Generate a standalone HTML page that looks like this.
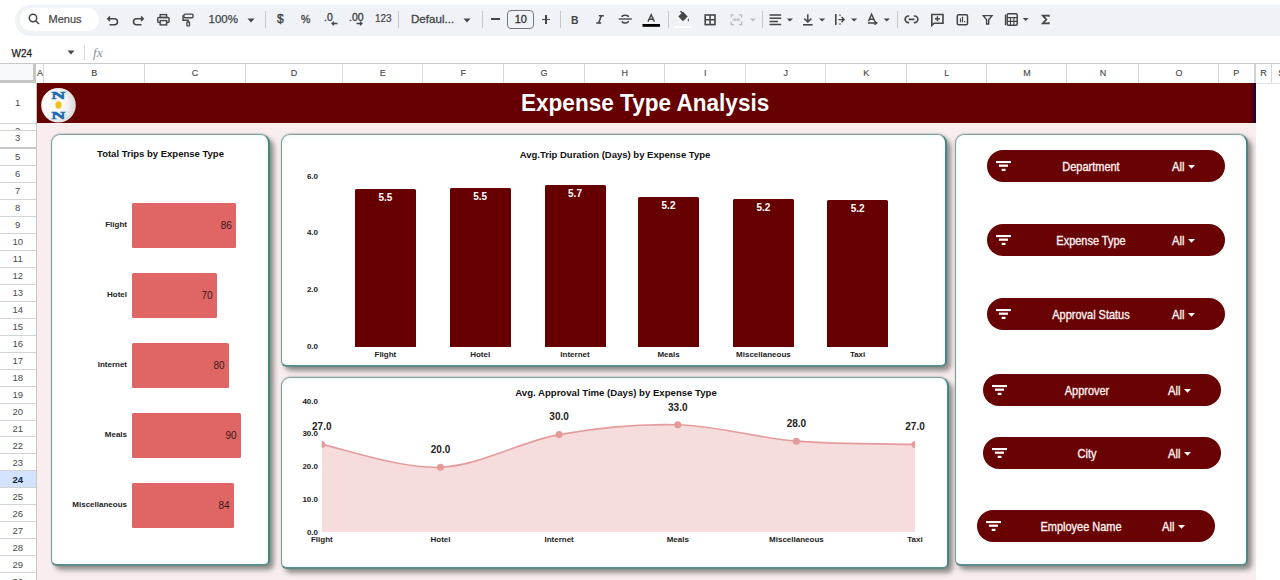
<!DOCTYPE html><html><head><meta charset="utf-8"><style>
*{box-sizing:border-box;margin:0;padding:0}
html,body{width:1280px;height:580px;overflow:hidden;background:#fff;font-family:"Liberation Sans",sans-serif;position:relative}
.a{position:absolute}
.ic{position:absolute}
.cl{position:absolute;top:64px;height:19px;line-height:19px;font-size:9px;color:#4a4a4a;text-align:center;-webkit-text-stroke:0.15px #4a4a4a}
.rn{position:absolute;left:0;width:35.5px;font-size:9.5px;color:#4a4a4a;text-align:center}
.panel{position:absolute;background:#fff;border:1.3px solid #5f8b8a;border-top-color:#86a09e;border-left-color:#7f9a9a;border-right:2px solid #4a8484;border-bottom-width:2px;border-radius:9px 9px 6px 6px;box-shadow:4px 4px 5px rgba(75,78,72,.6),0 -0.5px 1.5px rgba(120,150,150,.35),inset 0 0 5px rgba(160,230,230,.22)}
.chip{position:absolute;height:32px;border-radius:16px;background:#690202;color:#fcf0f0;font-size:11.5px}
.chip .t{position:absolute;top:0.5px;line-height:32px;text-align:center;width:160px;font-size:12.2px;transform:scaleX(0.9);-webkit-text-stroke:0.35px #fcf0f0}
.chip .all{position:absolute;top:0.5px;line-height:32px;font-size:12.2px;transform:scaleX(0.92);transform-origin:0 0;-webkit-text-stroke:0.35px #fcf0f0}
.b8{font-weight:bold;font-size:8px;color:#222}
</style></head><body>

<div class="a" style="left:15px;top:4.5px;width:1300px;height:31.2px;border-radius:15.6px;background:#eff3f8"></div>
<div class="a" style="left:20px;top:8.2px;width:79px;height:22.5px;border-radius:11.25px;background:#fff"></div>
<svg class="ic" style="left:27px;top:12px" width="16" height="16" viewBox="0 0 16 16"><circle cx="6" cy="6" r="3.7" fill="none" stroke="#444" stroke-width="1.5"/><line x1="8.7" y1="8.7" x2="12" y2="12" stroke="#444" stroke-width="1.6"/></svg>
<div class="a" style="left:48.5px;top:12px;font-size:11px;line-height:14px;color:#444;-webkit-text-stroke:0.2px #444">Menus</div>
<svg class="ic" style="left:106px;top:13px" width="14" height="14" viewBox="0 0 14 14"><path d="M4 3.5 L1.8 5.8 L4 8 M2 5.8 H8.5 a3 3 0 0 1 0 6 H3.5" fill="none" stroke="#444746" stroke-width="1.6"/></svg>
<svg class="ic" style="left:131px;top:13px" width="14" height="14" viewBox="0 0 14 14"><path d="M10 3.5 L12.2 5.8 L10 8 M12 5.8 H5.5 a3 3 0 0 0 0 6 H10.5" fill="none" stroke="#444746" stroke-width="1.6"/></svg>
<svg class="a" style="left:0;top:0" width="300" height="40" viewBox="0 0 300 40">
<rect x="160.2" y="14.6" width="6.4" height="2.9" fill="none" stroke="#444746" stroke-width="1.4"/>
<rect x="157.7" y="17.4" width="11.4" height="5.2" rx="1.4" fill="none" stroke="#444746" stroke-width="1.5"/>
<rect x="160.2" y="20.6" width="6.4" height="4.3" fill="#eff3f8" stroke="#444746" stroke-width="1.4"/>
<rect x="184" y="14.1" width="9" height="3.6" rx="1" fill="none" stroke="#444746" stroke-width="1.4"/>
<path d="M184 15.9 H183 V20.2 H188.2 V22" fill="none" stroke="#444746" stroke-width="1.4"/>
<rect x="186.9" y="22" width="2.6" height="3.9" rx=".5" fill="none" stroke="#444746" stroke-width="1.3"/>
</svg>
<div class="a" style="left:208.5px;top:12.3px;font-size:11.5px;line-height:14px;color:#444;-webkit-text-stroke:0.25px #444">100%</div>
<svg class="ic" style="left:247px;top:17.5px" width="8" height="5" viewBox="0 0 8 5"><path d="M0.5 0.5 H7.5 L4 4.5Z" fill="#444746"/></svg>
<div class="a" style="left:265px;top:11px;width:1px;height:17px;background:#c7c7c7"></div>
<div class="a" style="left:277px;top:11.5px;font-size:12px;line-height:14px;color:#444;-webkit-text-stroke:0.4px #444">$</div>
<div class="a" style="left:301px;top:11.5px;font-size:10.5px;line-height:14px;color:#444;-webkit-text-stroke:0.3px #444">%</div>
<div class="a" style="left:324px;top:10px;font-size:10.5px;line-height:14px;color:#444;-webkit-text-stroke:0.35px #444">.0</div>
<svg class="ic" style="left:331px;top:21px" width="7" height="5" viewBox="0 0 7 5"><path d="M6.5 2.5 H1.2 M3 0.6 L1 2.5 L3 4.4" fill="none" stroke="#444746" stroke-width="1.3"/></svg>
<div class="a" style="left:349px;top:10px;font-size:10.5px;line-height:14px;color:#444;-webkit-text-stroke:0.35px #444">.00</div>
<svg class="ic" style="left:356px;top:21px" width="7" height="5" viewBox="0 0 7 5"><path d="M0.5 2.5 H5.8 M4 0.6 L6 2.5 L4 4.4" fill="none" stroke="#444746" stroke-width="1.3"/></svg>
<div class="a" style="left:375px;top:13px;font-size:10px;line-height:12px;color:#444;-webkit-text-stroke:0.2px #444">123</div>
<div class="a" style="left:398px;top:11px;width:1px;height:17px;background:#c7c7c7"></div>
<div class="a" style="left:411px;top:12px;font-size:11.6px;line-height:14px;color:#444;-webkit-text-stroke:0.3px #444">Defaul...</div>
<svg class="ic" style="left:463px;top:18px" width="8" height="5" viewBox="0 0 8 5"><path d="M0.5 0.5 H7.5 L4 4.5Z" fill="#444746"/></svg>
<div class="a" style="left:482px;top:11px;width:1px;height:17px;background:#c7c7c7"></div>
<div class="a" style="left:491px;top:18px;width:8.5px;height:1.6px;background:#444746"></div>
<div class="a" style="left:507.3px;top:10px;width:27px;height:18.5px;border:1.1px solid #777;border-radius:4px;font-size:11px;line-height:16.5px;text-align:center;color:#333;-webkit-text-stroke:0.3px #333">10</div>
<div class="a" style="left:541.8px;top:18.7px;width:8.4px;height:1.6px;background:#444746"></div><div class="a" style="left:545.2px;top:15.3px;width:1.6px;height:8.4px;background:#444746"></div>
<div class="a" style="left:559.5px;top:11px;width:1px;height:17px;background:#c7c7c7"></div>
<div class="a" style="left:570.5px;top:13px;font-size:11.5px;line-height:14px;color:#444;font-weight:bold;transform:scaleX(0.9);transform-origin:0 0">B</div>
<svg class="a" style="left:0;top:0" width="1280" height="40" viewBox="0 0 1280 40">
<path d="M598.8 15.8 H603.8 M596.2 23 H601.2 M601.3 15.8 L598.7 23" fill="none" stroke="#444746" stroke-width="1.6"/>
<path d="M628.6 17 C628 14.8 622 14.8 622 17 M622 21.2 C622.6 23.6 628.6 23.6 628.4 21" fill="none" stroke="#444746" stroke-width="1.5"/>
<line x1="618.8" y1="19" x2="631.8" y2="19" stroke="#444746" stroke-width="1.4"/>
<path d="M648 21.6 L651.2 14.6 L654.4 21.6 M649.1 19.3 H653.3" fill="none" stroke="#444746" stroke-width="1.4"/>
<rect x="642.5" y="24" width="17.5" height="2.8" fill="#000"/>
<path d="M680.5 11.3 L683.3 14.1" stroke="#444746" stroke-width="1.5"/>
<path d="M678.3 16.5 L683 11.8 L687.7 16.5 L683 21.2 Z" fill="#444746"/>
<path d="M688.2 18.2 q1.6 2 0.4 3.2 q-1.6 -0.6 -0.4 -3.2z" fill="#444746"/>
</svg>
<div class="a" style="left:667.5px;top:11px;width:1px;height:17px;background:#c7c7c7"></div>
<div class="a" style="left:674px;top:26px;width:18px;height:2px;background:#fff"></div>
<svg class="a" style="left:0;top:0" width="1280" height="40" viewBox="0 0 1280 40">
<rect x="705.2" y="15" width="9.8" height="9.6" fill="none" stroke="#444746" stroke-width="1.6"/>
<path d="M710.1 15 V24.6 M705.2 19.8 H715" stroke="#444746" stroke-width="1.5"/>
<path d="M731.2 17.5 V14.8 H734 M738.8 14.8 H741.6 V17.5 M731.2 21.5 V24.6 H734 M738.8 24.6 H741.6 V21.5" fill="none" stroke="#b8bcc0" stroke-width="1.3"/>
<path d="M732.5 19.7 H735.8 M734.3 18.2 L735.8 19.7 L734.3 21.2 M740.3 19.7 H737 M738.5 18.2 L737 19.7 L738.5 21.2" fill="none" stroke="#b8bcc0" stroke-width="1.1"/>
<path d="M750 18.4 H755.8 L752.9 21.4Z" fill="#b8bcc0"/>
<path d="M769.5 15 H781.2 M769.5 18.3 H781.2 M769.5 21.5 H778 M769.5 24.5 H781.2" stroke="#444746" stroke-width="1.5"/>
<path d="M786.8 18.4 H793 L789.9 21.4Z" fill="#444746"/>
<path d="M807.8 14.2 V21.8 M804.3 18.6 L807.8 22 L811.3 18.6" fill="none" stroke="#444746" stroke-width="1.5"/>
<path d="M803 24.8 H812.6" stroke="#444746" stroke-width="1.6"/>
<path d="M819 18.4 H825.2 L822.1 21.4Z" fill="#444746"/>
<path d="M835.8 14 V25" stroke="#444746" stroke-width="1.6"/>
<path d="M838.5 19.6 H844 M841.5 17 L844.2 19.6 L841.5 22.2" fill="none" stroke="#444746" stroke-width="1.4"/>
<path d="M840 14.5 V16 M840 23.2 V24.8" stroke="#444746" stroke-width="1.2"/>
<path d="M851 18.4 H857.2 L854.1 21.4Z" fill="#444746"/>
<path d="M868.4 21.4 L871.6 14.3 L874.8 21.4 M869.5 19.2 H873.7" fill="none" stroke="#444746" stroke-width="1.4"/>
<path d="M868 23 H876.5 M874.5 21.3 L876.8 23 L874.5 24.7" fill="none" stroke="#444746" stroke-width="1.4"/>
<path d="M883.7 18.4 H889.9 L886.8 21.4Z" fill="#444746"/>
<path d="M909.2 16 H908.5 a3.35 3.35 0 0 0 0 6.7 H909.2 M913.8 16 H914.5 a3.35 3.35 0 0 1 0 6.7 H913.8 M908.6 19.35 H914.4" fill="none" stroke="#444746" stroke-width="1.7"/>
<path d="M931.8 14.5 H943 V23.2 H934.2 L931.8 25.4 Z" fill="none" stroke="#444746" stroke-width="1.6"/>
<path d="M937.4 16.3 V21.3 M934.9 18.8 H939.9" stroke="#444746" stroke-width="1.5"/>
<rect x="957.3" y="14.8" width="10.2" height="10" rx="1.2" fill="none" stroke="#444746" stroke-width="1.5"/>
<path d="M960.5 22.2 V18.5 M962.5 22.2 V16.8 M964.6 22.2 V21" stroke="#444746" stroke-width="1.2"/>
<path d="M983.3 15.6 H992 L988.7 19.7 V24 H986.6 V19.7 Z" fill="none" stroke="#444746" stroke-width="1.4"/>
<path d="M1005.5 14.5 V25.3" stroke="#444746" stroke-width="1.3"/>
<rect x="1007.2" y="13.8" width="10" height="11.5" rx="1.2" fill="none" stroke="#444746" stroke-width="1.5"/>
<path d="M1007.2 17.6 H1017.2 M1010.5 17.6 V25.3 M1013.9 17.6 V25.3 M1007.2 21.4 H1017.2" stroke="#444746" stroke-width="1.1"/>
<path d="M1022.8 17.9 H1028.6 L1025.7 20.9Z" fill="#444746"/>
<path d="M1048.8 16.8 V15.6 H1042.8 L1046.3 19.5 L1042.8 23.4 H1048.8 V22.2" fill="none" stroke="#444746" stroke-width="1.8"/>
</svg>
<div class="a" style="left:761.5px;top:11px;width:1px;height:17px;background:#c7c7c7"></div>
<div class="a" style="left:896.5px;top:11px;width:1px;height:17px;background:#c7c7c7"></div>
<div class="a" style="left:11.5px;top:46.5px;font-size:10px;line-height:13px;color:#222;-webkit-text-stroke:0.25px #222">W24</div>
<svg class="ic" style="left:67px;top:50px" width="8" height="5" viewBox="0 0 8 5"><path d="M0.5 0.5 H7.5 L4 4.5Z" fill="#444746"/></svg>
<div class="a" style="left:84px;top:45px;width:1px;height:15px;background:#ddd"></div>
<div class="a" style="left:93px;top:44px;font-family:'Liberation Serif',serif;font-style:italic;font-size:13.5px;line-height:15px;color:#8f959a;top:45px">fx</div>
<div class="a" style="left:0;top:63px;width:1280px;height:1px;background:#c8c8c8"></div>
<div class="a" style="left:0;top:64px;width:36px;height:19px;background:#f8f9fa"></div>
<div class="a" style="left:33px;top:64px;width:3px;height:19px;background:#c4c7c5"></div>
<div class="a" style="left:0;top:80px;width:36px;height:3px;background:#c4c7c5"></div>
<div class="cl" style="left:36px;width:8px">A</div>
<div class="a" style="left:43.20px;top:64px;width:1px;height:19px;background:#d6d8db"></div>
<div class="cl" style="left:44px;width:100.5px">B</div>
<div class="a" style="left:143.70px;top:64px;width:1px;height:19px;background:#d6d8db"></div>
<div class="cl" style="left:144.5px;width:101.0px">C</div>
<div class="a" style="left:244.70px;top:64px;width:1px;height:19px;background:#d6d8db"></div>
<div class="cl" style="left:245.5px;width:97.0px">D</div>
<div class="a" style="left:341.70px;top:64px;width:1px;height:19px;background:#d6d8db"></div>
<div class="cl" style="left:342.5px;width:80.5px">E</div>
<div class="a" style="left:422.20px;top:64px;width:1px;height:19px;background:#d6d8db"></div>
<div class="cl" style="left:423px;width:80.5px">F</div>
<div class="a" style="left:502.70px;top:64px;width:1px;height:19px;background:#d6d8db"></div>
<div class="cl" style="left:503.5px;width:81.0px">G</div>
<div class="a" style="left:583.70px;top:64px;width:1px;height:19px;background:#d6d8db"></div>
<div class="cl" style="left:584.5px;width:80.5px">H</div>
<div class="a" style="left:664.20px;top:64px;width:1px;height:19px;background:#d6d8db"></div>
<div class="cl" style="left:665px;width:80.5px">I</div>
<div class="a" style="left:744.70px;top:64px;width:1px;height:19px;background:#d6d8db"></div>
<div class="cl" style="left:745.5px;width:80.5px">J</div>
<div class="a" style="left:825.20px;top:64px;width:1px;height:19px;background:#d6d8db"></div>
<div class="cl" style="left:826px;width:80.5px">K</div>
<div class="a" style="left:905.70px;top:64px;width:1px;height:19px;background:#d6d8db"></div>
<div class="cl" style="left:906.5px;width:80.5px">L</div>
<div class="a" style="left:986.20px;top:64px;width:1px;height:19px;background:#d6d8db"></div>
<div class="cl" style="left:987px;width:80px">M</div>
<div class="a" style="left:1066.20px;top:64px;width:1px;height:19px;background:#d6d8db"></div>
<div class="cl" style="left:1067px;width:72px">N</div>
<div class="a" style="left:1138.20px;top:64px;width:1px;height:19px;background:#d6d8db"></div>
<div class="cl" style="left:1139px;width:80px">O</div>
<div class="a" style="left:1218.20px;top:64px;width:1px;height:19px;background:#d6d8db"></div>
<div class="cl" style="left:1219px;width:34.5px">P</div>
<div class="cl" style="left:1255.5px;width:16.0px">R</div>
<div class="a" style="left:1270.70px;top:64px;width:1px;height:19px;background:#d6d8db"></div>
<div class="cl" style="left:1271.5px;width:19.5px">S</div>
<div class="a" style="left:1290.20px;top:64px;width:1px;height:19px;background:#d6d8db"></div>
<div class="a" style="left:1253.5px;top:64px;width:2.5px;height:19px;background:#eceff1;border-left:1px solid #cfd2d4;border-right:1px solid #cfd2d4"></div>
<div class="a" style="left:36px;top:83px;width:1219.5px;height:497px;background:#f9eeee"></div>
<div class="a" style="left:1255.5px;top:83px;width:30px;height:497px;background:#fff"></div>
<div class="a" style="left:1255.5px;top:82.5px;width:30px;height:1px;background:#e2e3e3"></div>
<div class="a" style="left:35.5px;top:83px;width:1px;height:497px;background:#c4c7c5"></div>
<div class="rn" style="top:83.00px;height:40px;line-height:40px;">1</div>
<div class="a" style="left:0;top:122.50px;width:36px;height:1px;background:#d2d3d5"></div>
<div class="rn" style="top:123px;height:7.5px;overflow:hidden"><div style="line-height:13px;margin-top:0.5px">2</div></div>
<div class="a" style="left:0;top:130.00px;width:36px;height:1px;background:#d2d3d5"></div>
<div class="rn" style="top:129.20px;height:17.0px;line-height:17.0px;">3</div>
<div class="a" style="left:0;top:147.00px;width:36px;height:1px;background:#d2d3d5"></div>
<div class="rn" style="top:149.30px;height:16.97px;line-height:16.97px;">5</div>
<div class="a" style="left:0;top:164.97px;width:36px;height:1px;background:#d2d3d5"></div>
<div class="rn" style="top:166.27px;height:16.97px;line-height:16.97px;">6</div>
<div class="a" style="left:0;top:181.94px;width:36px;height:1px;background:#d2d3d5"></div>
<div class="rn" style="top:183.24px;height:16.97px;line-height:16.97px;">7</div>
<div class="a" style="left:0;top:198.91px;width:36px;height:1px;background:#d2d3d5"></div>
<div class="rn" style="top:200.21px;height:16.97px;line-height:16.97px;">8</div>
<div class="a" style="left:0;top:215.88px;width:36px;height:1px;background:#d2d3d5"></div>
<div class="rn" style="top:217.18px;height:16.97px;line-height:16.97px;">9</div>
<div class="a" style="left:0;top:232.85px;width:36px;height:1px;background:#d2d3d5"></div>
<div class="rn" style="top:234.15px;height:16.97px;line-height:16.97px;">10</div>
<div class="a" style="left:0;top:249.82px;width:36px;height:1px;background:#d2d3d5"></div>
<div class="rn" style="top:251.12px;height:16.96999999999997px;line-height:16.96999999999997px;">11</div>
<div class="a" style="left:0;top:266.79px;width:36px;height:1px;background:#d2d3d5"></div>
<div class="rn" style="top:268.09px;height:16.970000000000027px;line-height:16.970000000000027px;">12</div>
<div class="a" style="left:0;top:283.76px;width:36px;height:1px;background:#d2d3d5"></div>
<div class="rn" style="top:285.06px;height:16.970000000000027px;line-height:16.970000000000027px;">13</div>
<div class="a" style="left:0;top:300.73px;width:36px;height:1px;background:#d2d3d5"></div>
<div class="rn" style="top:302.03px;height:16.970000000000027px;line-height:16.970000000000027px;">14</div>
<div class="a" style="left:0;top:317.70px;width:36px;height:1px;background:#d2d3d5"></div>
<div class="rn" style="top:319.00px;height:16.970000000000027px;line-height:16.970000000000027px;">15</div>
<div class="a" style="left:0;top:334.67px;width:36px;height:1px;background:#d2d3d5"></div>
<div class="rn" style="top:335.97px;height:16.970000000000027px;line-height:16.970000000000027px;">16</div>
<div class="a" style="left:0;top:351.64px;width:36px;height:1px;background:#d2d3d5"></div>
<div class="rn" style="top:352.94px;height:16.970000000000027px;line-height:16.970000000000027px;">17</div>
<div class="a" style="left:0;top:368.61px;width:36px;height:1px;background:#d2d3d5"></div>
<div class="rn" style="top:369.91px;height:16.970000000000027px;line-height:16.970000000000027px;">18</div>
<div class="a" style="left:0;top:385.58px;width:36px;height:1px;background:#d2d3d5"></div>
<div class="rn" style="top:386.88px;height:16.970000000000027px;line-height:16.970000000000027px;">19</div>
<div class="a" style="left:0;top:402.55px;width:36px;height:1px;background:#d2d3d5"></div>
<div class="rn" style="top:403.85px;height:16.970000000000027px;line-height:16.970000000000027px;">20</div>
<div class="a" style="left:0;top:419.52px;width:36px;height:1px;background:#d2d3d5"></div>
<div class="rn" style="top:420.82px;height:16.970000000000027px;line-height:16.970000000000027px;">21</div>
<div class="a" style="left:0;top:436.49px;width:36px;height:1px;background:#d2d3d5"></div>
<div class="rn" style="top:437.79px;height:16.970000000000027px;line-height:16.970000000000027px;">22</div>
<div class="a" style="left:0;top:453.46px;width:36px;height:1px;background:#d2d3d5"></div>
<div class="rn" style="top:454.76px;height:16.970000000000027px;line-height:16.970000000000027px;">23</div>
<div class="a" style="left:0;top:470.43px;width:36px;height:1px;background:#d2d3d5"></div>
<div class="a" style="left:0;top:470.9300000000003px;width:35.5px;height:16.970000000000027px;background:#d3e3fd"></div>
<div class="rn" style="top:471.73px;height:16.970000000000027px;line-height:16.970000000000027px;font-weight:bold;color:#0b1f44">24</div>
<div class="a" style="left:0;top:487.40px;width:36px;height:1px;background:#d2d3d5"></div>
<div class="rn" style="top:488.70px;height:16.970000000000027px;line-height:16.970000000000027px;">25</div>
<div class="a" style="left:0;top:504.37px;width:36px;height:1px;background:#d2d3d5"></div>
<div class="rn" style="top:505.67px;height:16.970000000000027px;line-height:16.970000000000027px;">26</div>
<div class="a" style="left:0;top:521.34px;width:36px;height:1px;background:#d2d3d5"></div>
<div class="rn" style="top:522.64px;height:16.970000000000027px;line-height:16.970000000000027px;">27</div>
<div class="a" style="left:0;top:538.31px;width:36px;height:1px;background:#d2d3d5"></div>
<div class="rn" style="top:539.61px;height:16.970000000000027px;line-height:16.970000000000027px;">28</div>
<div class="a" style="left:0;top:555.28px;width:36px;height:1px;background:#d2d3d5"></div>
<div class="rn" style="top:556.58px;height:16.970000000000027px;line-height:16.970000000000027px;">29</div>
<div class="a" style="left:0;top:572.25px;width:36px;height:1px;background:#d2d3d5"></div>
<div class="rn" style="top:573.55px;height:16.970000000000027px;line-height:16.970000000000027px;">30</div>
<div class="a" style="left:0;top:589.22px;width:36px;height:1px;background:#d2d3d5"></div>
<div class="a" style="left:0;top:147px;width:36px;height:2px;background:#c4c7c5"></div>
<div class="a" style="left:36.5px;top:83px;width:1219px;height:39.5px;background:#660000"></div>
<div class="a" style="left:1251.5px;top:83px;width:4px;height:39.5px;background:linear-gradient(90deg,#660000,#2a0630 50%,#1a0838)"></div>
<div class="a" style="left:521px;top:89px;white-space:nowrap;font-weight:bold;font-size:23.8px;line-height:28px;color:#fff;transform:scaleX(0.948);transform-origin:0 0">Expense Type Analysis</div>
<svg class="a" style="left:36px;top:82px" width="46" height="42" viewBox="36 82 46 42">
<defs><radialGradient id="lg" cx="0.3" cy="0.45" r="0.8"><stop offset="0" stop-color="#ffffff"/><stop offset="0.55" stop-color="#f4f4f4"/><stop offset="1" stop-color="#cfcfcf"/></radialGradient></defs>
<circle cx="58.5" cy="105.2" r="17.3" fill="url(#lg)"/>
<text transform="translate(58.3,99.1) scale(1.85,1)" text-anchor="middle" font-family="Liberation Serif" font-weight="bold" font-size="10.6" fill="#1b6db5" stroke="#1b6db5" stroke-width="0.5">N</text>
<ellipse cx="58.5" cy="105" rx="3.1" ry="3.7" fill="#f1c21b"/>
<text transform="translate(58.3,118.7) scale(1.85,1)" text-anchor="middle" font-family="Liberation Serif" font-weight="bold" font-size="10.6" fill="#1b6db5" stroke="#1b6db5" stroke-width="0.5">N</text>
</svg>
<div class="panel" style="left:51px;top:134px;width:219px;height:431.5px"></div>
<div class="panel" style="left:280.5px;top:134px;width:666px;height:232.5px"></div>
<div class="panel" style="left:280.5px;top:377px;width:668px;height:191.5px"></div>
<div class="panel" style="left:954.8px;top:134px;width:293.7px;height:431.5px"></div>
<div class="a" style="left:52px;top:147.5px;width:217px;text-align:center;font-weight:bold;font-size:9.5px;line-height:12px;color:#111">Total Trips by Expense Type</div>
<div class="a" style="left:132px;top:203.0px;width:103.9px;height:45px;background:#e06666;border-radius:1.5px"></div>
<div class="a b8" style="left:39px;width:88px;top:219.0px;line-height:11px;text-align:right">Flight</div>
<div class="a" style="left:132px;width:99.9px;top:218.5px;line-height:13px;text-align:right;font-size:10px;color:#3a1616">86</div>
<div class="a" style="left:132px;top:273.1px;width:84.6px;height:45px;background:#e06666;border-radius:1.5px"></div>
<div class="a b8" style="left:39px;width:88px;top:289.1px;line-height:11px;text-align:right">Hotel</div>
<div class="a" style="left:132px;width:80.6px;top:288.6px;line-height:13px;text-align:right;font-size:10px;color:#3a1616">70</div>
<div class="a" style="left:132px;top:343.2px;width:96.6px;height:45px;background:#e06666;border-radius:1.5px"></div>
<div class="a b8" style="left:39px;width:88px;top:359.2px;line-height:11px;text-align:right">Internet</div>
<div class="a" style="left:132px;width:92.6px;top:358.7px;line-height:13px;text-align:right;font-size:10px;color:#3a1616">80</div>
<div class="a" style="left:132px;top:413.3px;width:108.7px;height:45px;background:#e06666;border-radius:1.5px"></div>
<div class="a b8" style="left:39px;width:88px;top:429.3px;line-height:11px;text-align:right">Meals</div>
<div class="a" style="left:132px;width:104.7px;top:428.8px;line-height:13px;text-align:right;font-size:10px;color:#3a1616">90</div>
<div class="a" style="left:132px;top:483.4px;width:101.5px;height:45px;background:#e06666;border-radius:1.5px"></div>
<div class="a b8" style="left:39px;width:88px;top:499.4px;line-height:11px;text-align:right">Miscellaneous</div>
<div class="a" style="left:132px;width:97.5px;top:498.9px;line-height:13px;text-align:right;font-size:10px;color:#3a1616">84</div>
<div class="a" style="left:281px;top:149px;width:666px;text-align:center;font-weight:bold;font-size:9.5px;line-height:12px;color:#111;padding-left:2px">Avg.Trip Duration (Days) by Expense Type</div>
<div class="a b8" style="left:296px;width:22px;top:170.5px;line-height:11px;text-align:right">6.0</div>
<div class="a b8" style="left:296px;width:22px;top:227.3px;line-height:11px;text-align:right">4.0</div>
<div class="a b8" style="left:296px;width:22px;top:284.1px;line-height:11px;text-align:right">2.0</div>
<div class="a b8" style="left:296px;width:22px;top:340.9px;line-height:11px;text-align:right">0.0</div>
<div class="a" style="left:354.9px;top:189.3px;width:61px;height:157.3px;background:#660000;border-radius:1.5px 1.5px 0 0"></div>
<div class="a" style="left:355.4px;top:191.3px;width:60px;line-height:13px;text-align:center;font-weight:bold;font-size:10px;color:#fff">5.5</div>
<div class="a b8" style="left:345.4px;top:349px;width:80px;line-height:11px;text-align:center">Flight</div>
<div class="a" style="left:449.7px;top:188.3px;width:61px;height:158.3px;background:#660000;border-radius:1.5px 1.5px 0 0"></div>
<div class="a" style="left:450.2px;top:190.3px;width:60px;line-height:13px;text-align:center;font-weight:bold;font-size:10px;color:#fff">5.5</div>
<div class="a b8" style="left:440.2px;top:349px;width:80px;line-height:11px;text-align:center">Hotel</div>
<div class="a" style="left:544.5px;top:185.3px;width:61px;height:161.3px;background:#660000;border-radius:1.5px 1.5px 0 0"></div>
<div class="a" style="left:545.0px;top:187.3px;width:60px;line-height:13px;text-align:center;font-weight:bold;font-size:10px;color:#fff">5.7</div>
<div class="a b8" style="left:535.0px;top:349px;width:80px;line-height:11px;text-align:center">Internet</div>
<div class="a" style="left:638.0px;top:197.4px;width:61px;height:149.2px;background:#660000;border-radius:1.5px 1.5px 0 0"></div>
<div class="a" style="left:638.5px;top:199.4px;width:60px;line-height:13px;text-align:center;font-weight:bold;font-size:10px;color:#fff">5.2</div>
<div class="a b8" style="left:628.5px;top:349px;width:80px;line-height:11px;text-align:center">Meals</div>
<div class="a" style="left:732.9px;top:199.1px;width:61px;height:147.5px;background:#660000;border-radius:1.5px 1.5px 0 0"></div>
<div class="a" style="left:733.4px;top:201.1px;width:60px;line-height:13px;text-align:center;font-weight:bold;font-size:10px;color:#fff">5.2</div>
<div class="a b8" style="left:723.4px;top:349px;width:80px;line-height:11px;text-align:center">Miscellaneous</div>
<div class="a" style="left:827.1px;top:200px;width:61px;height:146.6px;background:#660000;border-radius:1.5px 1.5px 0 0"></div>
<div class="a" style="left:827.6px;top:202px;width:60px;line-height:13px;text-align:center;font-weight:bold;font-size:10px;color:#fff">5.2</div>
<div class="a b8" style="left:817.6px;top:349px;width:80px;line-height:11px;text-align:center">Taxi</div>
<div class="a" style="left:281px;top:387px;width:668px;text-align:center;font-weight:bold;font-size:9.6px;line-height:12px;color:#111;padding-left:2px">Avg. Approval Time (Days) by Expense Type</div>
<div class="a b8" style="left:290px;width:28px;top:395.7px;line-height:11px;text-align:right">40.0</div>
<div class="a b8" style="left:290px;width:28px;top:428.4px;line-height:11px;text-align:right">30.0</div>
<div class="a b8" style="left:290px;width:28px;top:461.1px;line-height:11px;text-align:right">20.0</div>
<div class="a b8" style="left:290px;width:28px;top:493.8px;line-height:11px;text-align:right">10.0</div>
<div class="a b8" style="left:290px;width:28px;top:526.5px;line-height:11px;text-align:right">0.0</div>
<svg class="a" style="left:0;top:0" width="1280" height="580" viewBox="0 0 1280 580"><defs><clipPath id="ca"><rect x="321.80" y="380" width="593.25" height="160"/></clipPath></defs><g clip-path="url(#ca)"><path d="M321.80,444.41 C341.58,448.23 400.90,468.94 440.45,467.30 C480.00,465.67 519.55,441.69 559.10,434.60 C598.65,427.52 638.20,423.70 677.75,424.79 C717.30,425.88 756.85,437.87 796.40,441.14 C835.95,444.41 895.27,443.87 915.05,444.41 L915.05,532 L321.80,532 Z" fill="#f6dcdc"/><path d="M321.80,444.41 C341.58,448.23 400.90,468.94 440.45,467.30 C480.00,465.67 519.55,441.69 559.10,434.60 C598.65,427.52 638.20,423.70 677.75,424.79 C717.30,425.88 756.85,437.87 796.40,441.14 C835.95,444.41 895.27,443.87 915.05,444.41" fill="none" stroke="#e49c9c" stroke-width="1.6"/><circle cx="321.80" cy="444.41" r="3.5" fill="#e59a9a"/><circle cx="440.45" cy="467.30" r="3.5" fill="#e59a9a"/><circle cx="559.10" cy="434.60" r="3.5" fill="#e59a9a"/><circle cx="677.75" cy="424.79" r="3.5" fill="#e59a9a"/><circle cx="796.40" cy="441.14" r="3.5" fill="#e59a9a"/><circle cx="915.05" cy="444.41" r="3.5" fill="#e59a9a"/></g></svg>
<div class="a" style="left:291.8px;top:420.1px;width:60px;line-height:13px;text-align:center;font-weight:bold;font-size:10px;color:#222">27.0</div>
<div class="a b8" style="left:281.8px;top:534.3px;width:80px;line-height:11px;text-align:center">Flight</div>
<div class="a" style="left:410.5px;top:443.0px;width:60px;line-height:13px;text-align:center;font-weight:bold;font-size:10px;color:#222">20.0</div>
<div class="a b8" style="left:400.5px;top:534.3px;width:80px;line-height:11px;text-align:center">Hotel</div>
<div class="a" style="left:529.1px;top:410.3px;width:60px;line-height:13px;text-align:center;font-weight:bold;font-size:10px;color:#222">30.0</div>
<div class="a b8" style="left:519.1px;top:534.3px;width:80px;line-height:11px;text-align:center">Internet</div>
<div class="a" style="left:647.8px;top:400.5px;width:60px;line-height:13px;text-align:center;font-weight:bold;font-size:10px;color:#222">33.0</div>
<div class="a b8" style="left:637.8px;top:534.3px;width:80px;line-height:11px;text-align:center">Meals</div>
<div class="a" style="left:766.4px;top:416.8px;width:60px;line-height:13px;text-align:center;font-weight:bold;font-size:10px;color:#222">28.0</div>
<div class="a b8" style="left:756.4px;top:534.3px;width:80px;line-height:11px;text-align:center">Miscellaneous</div>
<div class="a" style="left:885.0px;top:420.1px;width:60px;line-height:13px;text-align:center;font-weight:bold;font-size:10px;color:#222">27.0</div>
<div class="a b8" style="left:875.0px;top:534.3px;width:80px;line-height:11px;text-align:center">Taxi</div>
<div class="chip" style="left:986.5px;top:150px;width:238.5px"><svg class="a" style="left:9.8px;top:11px" width="16" height="11" viewBox="0 0 16 11"><rect x="0" y="0" width="15" height="2.1" fill="#fff"/><rect x="2.9" y="3.6" width="9.1" height="2.2" fill="#fff"/><rect x="5.7" y="7.8" width="3.8" height="2.2" fill="#fff"/></svg><div class="t" style="left:24.4px">Department</div><div class="all" style="left:185.5px">All</div><svg class="a" style="left:201px;top:14.5px" width="7" height="4" viewBox="0 0 7 4"><path d="M0 0 H7 L3.5 3.8Z" fill="#fff"/></svg></div>
<div class="chip" style="left:986.5px;top:224px;width:238.5px"><svg class="a" style="left:9.8px;top:11px" width="16" height="11" viewBox="0 0 16 11"><rect x="0" y="0" width="15" height="2.1" fill="#fff"/><rect x="2.9" y="3.6" width="9.1" height="2.2" fill="#fff"/><rect x="5.7" y="7.8" width="3.8" height="2.2" fill="#fff"/></svg><div class="t" style="left:24.4px">Expense Type</div><div class="all" style="left:185.5px">All</div><svg class="a" style="left:201px;top:14.5px" width="7" height="4" viewBox="0 0 7 4"><path d="M0 0 H7 L3.5 3.8Z" fill="#fff"/></svg></div>
<div class="chip" style="left:986.5px;top:298px;width:238.5px"><svg class="a" style="left:9.8px;top:11px" width="16" height="11" viewBox="0 0 16 11"><rect x="0" y="0" width="15" height="2.1" fill="#fff"/><rect x="2.9" y="3.6" width="9.1" height="2.2" fill="#fff"/><rect x="5.7" y="7.8" width="3.8" height="2.2" fill="#fff"/></svg><div class="t" style="left:24.4px">Approval Status</div><div class="all" style="left:185.5px">All</div><svg class="a" style="left:201px;top:14.5px" width="7" height="4" viewBox="0 0 7 4"><path d="M0 0 H7 L3.5 3.8Z" fill="#fff"/></svg></div>
<div class="chip" style="left:982.5px;top:374px;width:238.5px"><svg class="a" style="left:9.8px;top:11px" width="16" height="11" viewBox="0 0 16 11"><rect x="0" y="0" width="15" height="2.1" fill="#fff"/><rect x="2.9" y="3.6" width="9.1" height="2.2" fill="#fff"/><rect x="5.7" y="7.8" width="3.8" height="2.2" fill="#fff"/></svg><div class="t" style="left:24.4px">Approver</div><div class="all" style="left:185.5px">All</div><svg class="a" style="left:201px;top:14.5px" width="7" height="4" viewBox="0 0 7 4"><path d="M0 0 H7 L3.5 3.8Z" fill="#fff"/></svg></div>
<div class="chip" style="left:982.5px;top:437px;width:238.5px"><svg class="a" style="left:9.8px;top:11px" width="16" height="11" viewBox="0 0 16 11"><rect x="0" y="0" width="15" height="2.1" fill="#fff"/><rect x="2.9" y="3.6" width="9.1" height="2.2" fill="#fff"/><rect x="5.7" y="7.8" width="3.8" height="2.2" fill="#fff"/></svg><div class="t" style="left:24.4px">City</div><div class="all" style="left:185.5px">All</div><svg class="a" style="left:201px;top:14.5px" width="7" height="4" viewBox="0 0 7 4"><path d="M0 0 H7 L3.5 3.8Z" fill="#fff"/></svg></div>
<div class="chip" style="left:976.5px;top:510px;width:238.5px"><svg class="a" style="left:9.8px;top:11px" width="16" height="11" viewBox="0 0 16 11"><rect x="0" y="0" width="15" height="2.1" fill="#fff"/><rect x="2.9" y="3.6" width="9.1" height="2.2" fill="#fff"/><rect x="5.7" y="7.8" width="3.8" height="2.2" fill="#fff"/></svg><div class="t" style="left:24.4px">Employee Name</div><div class="all" style="left:185.5px">All</div><svg class="a" style="left:201px;top:14.5px" width="7" height="4" viewBox="0 0 7 4"><path d="M0 0 H7 L3.5 3.8Z" fill="#fff"/></svg></div>
</body></html>
